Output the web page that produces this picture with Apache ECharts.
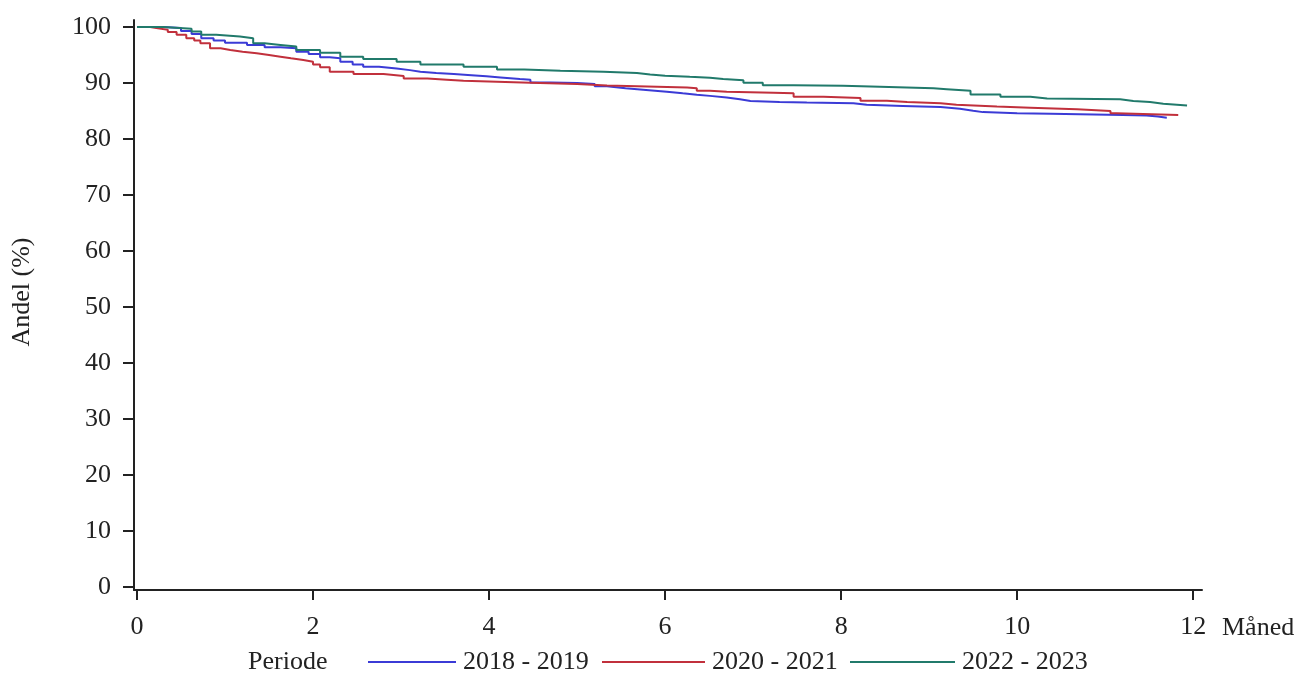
<!DOCTYPE html>
<html>
<head>
<meta charset="utf-8">
<script src="https://cdn.jsdelivr.net/npm/echarts/dist/echarts.min.js"></script>
<style>html,body{margin:0;padding:0;background:#fff}#c{width:1310px;height:690px}</style>
</head>
<body>
<div id="c"></div>
<script>
const seriesNames = ['2018 - 2019', '2020 - 2021', '2022 - 2023'];
const xTicks = [0, 2, 4, 6, 8, 10, 12];
const yTicks = [0, 10, 20, 30, 40, 50, 60, 70, 80, 90, 100];

const monthsA = [0,0.3,0.5,0.62,0.73,0.87,1.0,1.25,1.45,1.63,1.81,1.95,2.08,2.19,2.31,2.45,2.57,2.75,2.95,3.1,3.22,3.4,3.6,3.8,3.97,4.13,4.35,4.47,4.7,5.0,5.2,5.34,5.55,5.75,6.02,6.2,6.36,6.51,6.7,6.85,6.97,7.3,7.61,8.14,8.29,8.7,9.13,9.35,9.5,9.61,10.0,10.38,11.2,11.47,11.6,11.7];
const valuesA = [100,99.8,99.3,98.75,98.0,97.6,97.2,96.8,96.4,96.2,95.6,95.2,94.6,94.4,93.8,93.3,92.9,92.6,92.3,92.0,91.8,91.6,91.4,91.2,91.0,90.7,90.6,90.1,90.0,89.8,89.4,89.05,88.8,88.45,88.15,87.9,87.7,87.4,87.1,86.8,86.6,86.5,86.4,86.1,85.9,85.7,85.4,85.05,84.8,84.6,84.5,84.3,84.2,84.0,83.8,83.8];

const monthsB = [0,0.15,0.22,0.35,0.45,0.56,0.65,0.72,0.83,0.95,1.06,1.2,1.36,1.5,1.63,1.75,1.89,2.0,2.08,2.19,2.46,2.8,3.03,3.3,3.52,3.71,4.47,5.0,5.34,6.25,6.36,6.51,6.7,7.23,7.46,7.8,8.22,8.52,8.75,9.13,9.31,9.77,10.15,10.68,11.06,11.13,11.83];
const valuesB = [100,99.8,99.5,99.1,98.6,98.0,97.6,97.1,96.2,95.9,95.6,95.3,95.0,94.7,94.4,94.1,93.8,93.3,92.8,92.0,91.6,91.25,90.8,90.6,90.4,90.05,89.8,89.55,89.2,89.05,88.6,88.45,88.25,88.15,87.55,87.3,86.85,86.6,86.4,86.1,85.8,85.6,85.3,85.0,84.6,84.3,84.3];

const monthsC = [0,0.3,0.62,0.73,0.9,1.17,1.32,1.45,1.63,1.81,2.08,2.31,2.57,2.95,3.22,3.71,4.09,4.4,4.81,5.3,5.68,5.83,6.0,6.28,6.51,6.66,6.89,7.11,7.46,8.02,8.44,9.05,9.2,9.47,9.81,10.15,10.34,11.17,11.32,11.51,11.66,11.93];
const valuesC = [100,99.7,99.2,98.6,98.3,98.0,97.1,96.8,96.5,95.9,95.4,94.7,94.3,93.8,93.3,92.9,92.4,92.2,92.0,91.8,91.5,91.3,91.1,90.95,90.7,90.5,90.05,89.6,89.5,89.35,89.05,88.9,88.6,87.95,87.55,87.25,87.1,86.8,86.6,86.3,86.0,86.0];

const colors = ['#3b3bd6', '#c1303c', '#217a6b'];
const FONT = '"Liberation Serif", "DejaVu Serif", serif';
const TXT = '#222';
const FS = 26;

function zip(m, v) { return m.map((t, i) => [t, v[i]]); }
const allData = [zip(monthsA, valuesA), zip(monthsB, valuesB), zip(monthsC, valuesC)];

const legendLeft = [368, 602, 850];
const legendItemWidth = [88, 103, 105];

const chart = echarts.init(document.getElementById('c'), null, {renderer: 'canvas'});
chart.setOption({
  animation: false,
  backgroundColor: '#fff',
  color: colors,
  grid: {left: 134, right: 108, top: 20, bottom: 100, containLabel: false},
  xAxis: {
    type: 'value', min: -0.034, max: 12.1,
    splitLine: {show: false},
    axisLine: {show: true, onZero: false, lineStyle: {color: TXT, width: 2}},
    axisTick: {show: true, length: 10, customValues: xTicks, lineStyle: {color: TXT, width: 2}},
    axisLabel: {customValues: xTicks, margin: 24, fontFamily: FONT, fontSize: FS, color: TXT, lineHeight: 26}
  },
  yAxis: {
    type: 'value', min: -0.54, max: 101.25,
    splitLine: {show: false},
    axisLine: {show: true, onZero: false, lineStyle: {color: TXT, width: 2}},
    axisTick: {show: true, length: 11, customValues: yTicks, lineStyle: {color: TXT, width: 2}},
    axisLabel: {customValues: yTicks, margin: 23, fontFamily: FONT, fontSize: FS, color: TXT}
  },
  legend: seriesNames.map((n, i) => ({
    left: legendLeft[i], top: 649, padding: 0,
    icon: 'rect', itemWidth: legendItemWidth[i], itemHeight: 2,
    textStyle: {fontFamily: FONT, fontSize: FS, color: TXT, padding: [0, 0, 0, 2]},
    data: [n]
  })),
  graphic: [
    {type: 'text', left: 248, top: 649, style: {text: 'Periode', fontFamily: FONT, fontSize: FS, fill: TXT}},
    {type: 'text', left: 1222, top: 615, style: {text: 'Måned', fontFamily: FONT, fontSize: FS, fill: TXT}},
    {type: 'text', x: 22, y: 292, rotation: Math.PI / 2, style: {text: 'Andel (%)', fontFamily: FONT, fontSize: FS, fill: TXT, align: 'center', verticalAlign: 'middle'}}
  ],
  series: seriesNames.map((n, i) => ({
    name: n, type: 'line', step: 'end', showSymbol: false, symbol: 'none',
    lineStyle: {width: 2, color: colors[i]}, itemStyle: {color: colors[i]},
    data: allData[i]
  }))
});
</script>
</body>
</html>
